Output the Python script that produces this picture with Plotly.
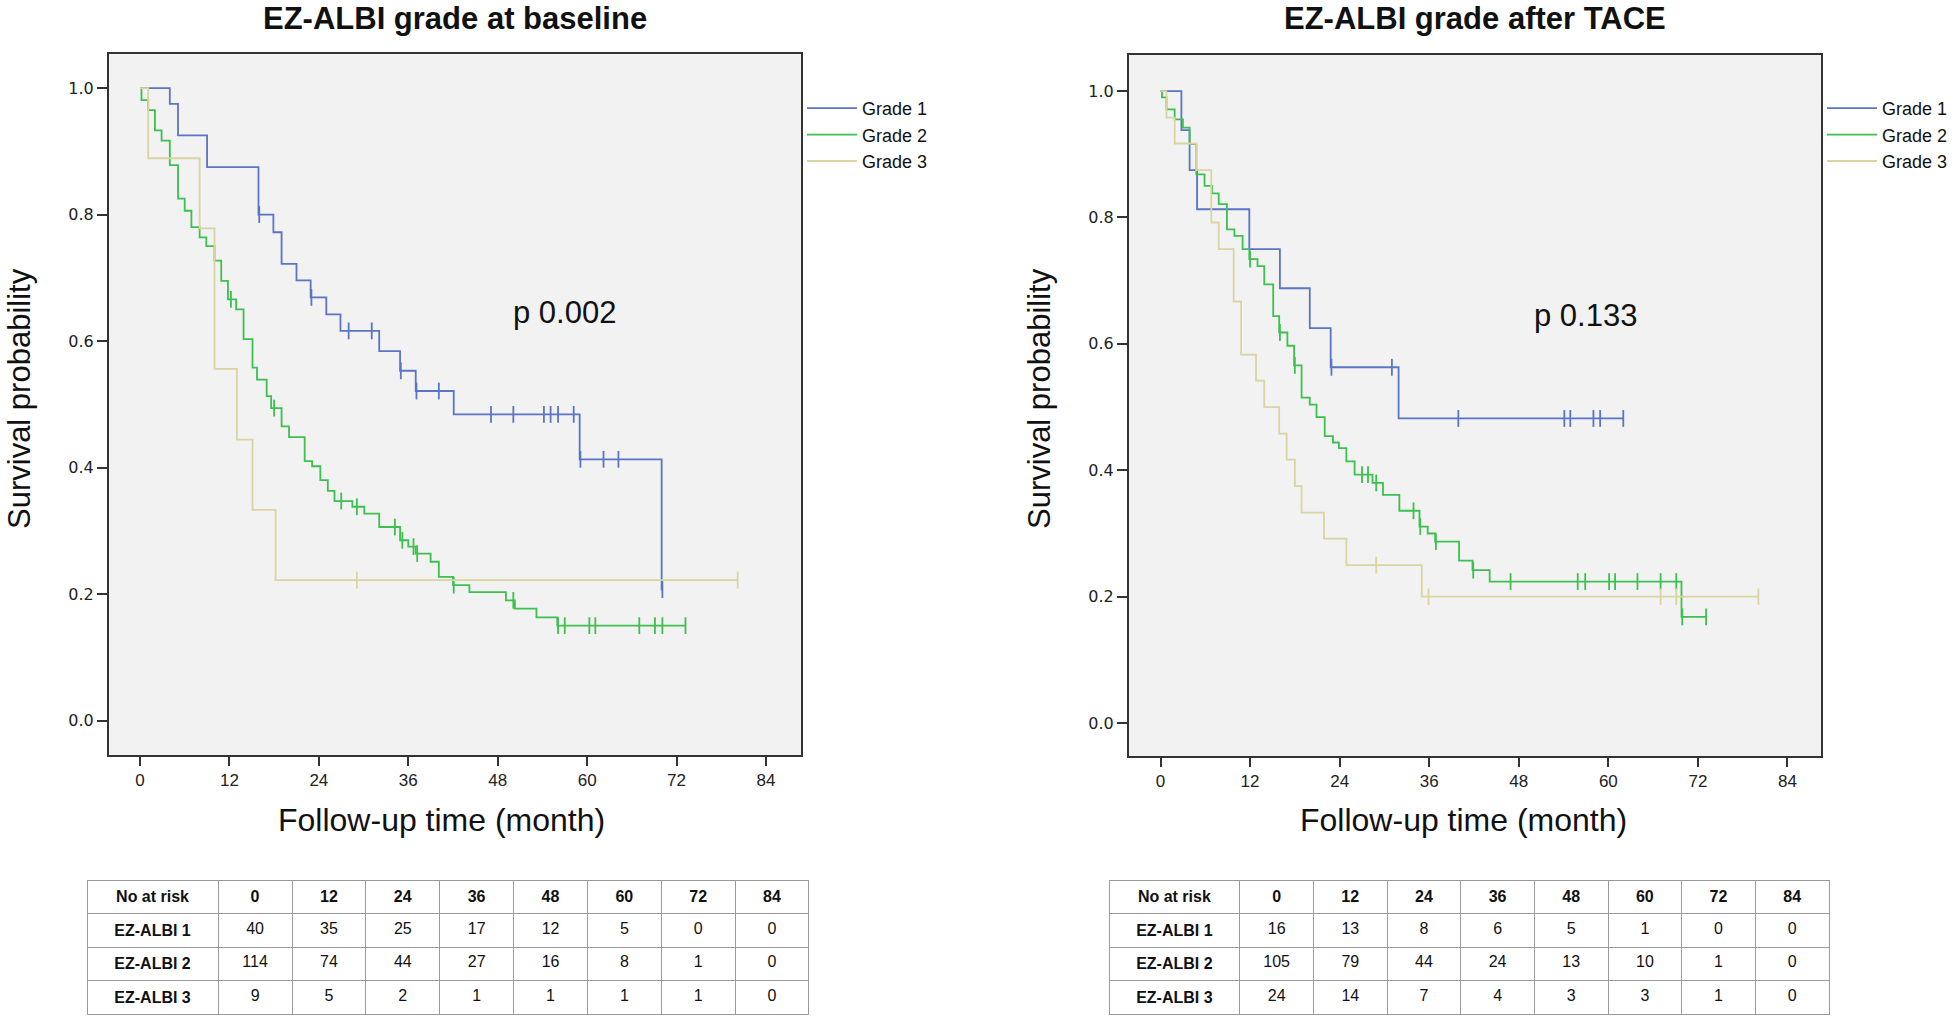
import numpy as np
import plotly.graph_objects as go

# ---------------- data ----------------
GRADES = ["Grade 1", "Grade 2", "Grade 3"]
COLORS = ["#5a74c6", "#3cc04e", "#d9d4a2"]

# Left panel: EZ-ALBI grade at baseline
L_G1_T = [4.0, 5.1, 9.0, 15.9, 17.9, 19.0, 21.0, 22.9, 25.0, 26.9, 32.1, 34.9, 37.0, 42.1, 59.0, 70.0]
L_G1_S = [0.975, 0.925, 0.875, 0.800, 0.772, 0.722, 0.696, 0.669, 0.642, 0.616, 0.584, 0.553, 0.521, 0.484, 0.413, 0.207]
L_G1_C = [16.0, 23.0, 28.0, 31.1, 35.0, 37.1, 40.1, 47.1, 50.1, 54.2, 55.1, 56.1, 58.2, 59.1, 62.2, 64.2, 70.1]

L_G2_T = [0.2, 1.1, 2.0, 2.9, 4.0, 5.1, 6.0, 6.9, 8.0, 8.9, 10.0, 10.9, 11.8, 12.9, 13.9, 15.1, 15.7,
          17.0, 17.6, 19.0, 20.0, 22.1, 23.1, 24.2, 25.2, 26.1, 28.5, 30.1, 32.1, 34.9, 36.0, 37.0,
          39.0, 40.1, 42.0, 44.2, 49.1, 50.3, 53.2, 56.0]
L_G2_S = [0.981, 0.965, 0.933, 0.917, 0.878, 0.825, 0.806, 0.780, 0.764, 0.750, 0.727, 0.695, 0.666,
          0.650, 0.603, 0.558, 0.539, 0.513, 0.494, 0.465, 0.448, 0.410, 0.402, 0.380, 0.363, 0.347,
          0.338, 0.327, 0.306, 0.285, 0.275, 0.264, 0.251, 0.227, 0.214, 0.203, 0.190, 0.177, 0.163, 0.150]
L_G2_C = [12.2, 18.0, 27.0, 29.1, 34.2, 35.2, 36.7, 37.2, 42.1, 50.1, 56.1, 57.0, 60.3, 61.1, 67.0, 69.1, 70.1, 73.2]

L_G3_T = [1.1, 8.0, 10.0, 13.0, 15.1, 18.2]
L_G3_S = [0.889, 0.778, 0.556, 0.444, 0.333, 0.222]
L_G3_C = [29.1, 80.2]

# Right panel: EZ-ALBI grade after TACE
R_G1_T = [2.8, 3.9, 4.9, 11.9, 16.0, 20.0, 22.8, 31.9]
R_G1_S = [0.938, 0.875, 0.813, 0.750, 0.688, 0.625, 0.563, 0.482]
R_G1_C = [22.9, 31.0, 39.9, 54.1, 54.9, 58.0, 58.9, 62.0]

R_G2_T = [0.2, 0.8, 1.9, 3.0, 3.9, 4.8, 5.9, 6.9, 7.8, 8.9, 9.9, 11.0, 11.9, 13.0, 13.9, 15.1, 15.9,
          17.0, 17.9, 18.9, 20.0, 20.9, 22.0, 23.1, 23.9, 24.9, 26.0, 28.4, 29.8, 32.0, 34.7, 35.8,
          36.8, 40.0, 41.8, 44.1, 69.8]
R_G2_S = [0.990, 0.971, 0.955, 0.942, 0.916, 0.868, 0.850, 0.838, 0.821, 0.781, 0.771, 0.750, 0.734,
          0.723, 0.694, 0.644, 0.618, 0.597, 0.566, 0.515, 0.504, 0.484, 0.454, 0.444, 0.435, 0.414,
          0.393, 0.380, 0.361, 0.336, 0.311, 0.300, 0.287, 0.257, 0.242, 0.224, 0.168]
R_G2_C = [12.0, 16.0, 18.0, 27.0, 27.8, 28.9, 33.9, 34.8, 36.9, 41.9, 46.9, 55.9, 56.9, 60.1, 60.9,
          63.9, 67.0, 69.1, 69.9, 73.1]

R_G3_T = [0.8, 1.9, 4.8, 6.8, 7.8, 9.8, 10.8, 12.8, 13.9, 15.9, 16.9, 18.0, 18.9, 21.9, 24.9, 35.0]
R_G3_S = [0.958, 0.917, 0.875, 0.792, 0.750, 0.667, 0.583, 0.542, 0.500, 0.458, 0.417, 0.375,
          0.333, 0.292, 0.250, 0.200]
R_G3_C = [28.9, 35.9, 67.0, 69.1, 80.1]

X_TICKS = [0, 12, 24, 36, 48, 60, 72, 84]
Y_TICKS = [0.0, 0.2, 0.4, 0.6, 0.8, 1.0]

TITLES = ["EZ-ALBI grade at baseline", "EZ-ALBI grade after TACE"]
P_VALUES = ["p 0.002", "p 0.133"]
X_TITLE = "Follow-up time (month)"
Y_TITLE = "Survival probability"

RISK_HEADER = ["No at risk", "0", "12", "24", "36", "48", "60", "72", "84"]
RISK_ROWS = ["EZ-ALBI 1", "EZ-ALBI 2", "EZ-ALBI 3"]
L_RISK_1 = [40, 35, 25, 17, 12, 5, 0, 0]
L_RISK_2 = [114, 74, 44, 27, 16, 8, 1, 0]
L_RISK_3 = [9, 5, 2, 1, 1, 1, 1, 0]
R_RISK_1 = [16, 13, 8, 6, 5, 1, 0, 0]
R_RISK_2 = [105, 79, 44, 24, 13, 10, 1, 0]
R_RISK_3 = [24, 14, 7, 4, 3, 3, 1, 0]

# ---------------- geometry helpers (page pixels -> paper fractions) ----------------
W, H = 1960, 1018


def px(x):
    return min(max(x / W, 0.0), 1.0)


def py(y):
    return min(max(1 - y / H, 0.0), 1.0)


SANS = "Liberation Sans, Arial, sans-serif"
NARROW = "Liberation Sans Narrow, Arial Narrow, Liberation Sans, sans-serif"

fig = go.Figure()


def add_curve(times, surv, cens, color, name, xa, ya, legend):
    t = np.array(times, float)
    s = np.array(surv, float)
    end = max(max(cens), t[-1])
    xs = np.concatenate([[0.0], t, [end]])
    ys = np.concatenate([[1.0], s, [s[-1]]])
    fig.add_trace(go.Scatter(x=xs, y=ys, mode="lines", line=dict(color=color, width=1.8, shape="hv"),
                             name=name, xaxis=xa, yaxis=ya, legend=legend, hoverinfo="skip"))
    c = np.array(cens, float)
    idx = np.searchsorted(t, c, side="right")
    cy = np.where(idx == 0, 1.0, s[np.maximum(idx - 1, 0)])
    fig.add_trace(go.Scatter(x=c, y=cy, mode="markers", showlegend=False, xaxis=xa, yaxis=ya,
                             marker=dict(symbol="line-ns", size=12, line=dict(color=color, width=1.8)),
                             hoverinfo="skip"))


panels = [
    ([(L_G1_T, L_G1_S, L_G1_C), (L_G2_T, L_G2_S, L_G2_C), (L_G3_T, L_G3_S, L_G3_C)], "x", "y", "legend"),
    ([(R_G1_T, R_G1_S, R_G1_C), (R_G2_T, R_G2_S, R_G2_C), (R_G3_T, R_G3_S, R_G3_C)], "x2", "y2", "legend2"),
]
for curves, xa, ya, lg in panels:
    for k in [0, 1, 2]:
        tt, ss, cc = curves[k]
        add_curve(tt, ss, cc, COLORS[k], GRADES[k], xa, ya, lg)

axis_common = dict(showgrid=False, zeroline=False, showline=True, mirror=True, linecolor="#333333",
                   linewidth=2, ticks="outside", tickcolor="#333333", tickwidth=1.5)
legend_common = dict(xanchor="left", yanchor="top", bgcolor="rgba(0,0,0,0)",
                     font=dict(family=SANS, size=18, color="#111"), itemwidth=50, tracegroupgap=0)

fig.update_layout(
    width=W, height=H, margin=dict(l=0, r=0, t=0, b=0),
    paper_bgcolor="white", plot_bgcolor="#f2f2f2", showlegend=True,
    xaxis=dict(domain=[px(109), px(801)], range=[-4.16, 88.7], tickvals=X_TICKS, ticklen=9,
               tickfont=dict(family=NARROW, size=17, color="#222"), anchor="y", **axis_common),
    yaxis=dict(domain=[py(755), py(54)], range=[-0.0545, 1.0538], tickvals=Y_TICKS, tickformat=".1f",
               ticklen=10, tickfont=dict(family="DejaVu Sans", size=16, color="#222"), anchor="x", **axis_common),
    xaxis2=dict(domain=[px(1129), px(1821)], range=[-4.22, 88.49], tickvals=X_TICKS, ticklen=9,
                tickfont=dict(family=NARROW, size=17, color="#222"), anchor="y2", **axis_common),
    yaxis2=dict(domain=[py(756), py(55)], range=[-0.052, 1.057], tickvals=Y_TICKS, tickformat=".1f",
                ticklen=10, tickfont=dict(family="DejaVu Sans", size=16, color="#222"), anchor="x2", **axis_common),
    legend=dict(x=px(802), y=py(90), **legend_common),
    legend2=dict(x=px(1822), y=py(90), **legend_common),
)

annotations = []
for i, (cx, xt_x, yt_x, xa, ya) in enumerate([(455, 441, 19, "x", "y"), (1475, 1463, 1039, "x2", "y2")]):
    annotations.append(dict(text="<b>" + TITLES[i] + "</b>", x=px(cx), y=py(18), xref="paper", yref="paper",
                            showarrow=False, font=dict(family=SANS, size=31, color="#111"),
                            xanchor="center", yanchor="middle"))
    annotations.append(dict(text=X_TITLE, x=px(xt_x), y=py(820), xref="paper", yref="paper", showarrow=False,
                            font=dict(family=SANS, size=32, color="#111"), xanchor="center", yanchor="middle"))
    annotations.append(dict(text=Y_TITLE, x=px(yt_x), y=py(399), xref="paper", yref="paper", showarrow=False,
                            textangle=-90, font=dict(family=SANS, size=31, color="#111"),
                            xanchor="center", yanchor="middle"))
    annotations.append(dict(text=P_VALUES[i], x=56.9, y=0.645, xref=xa, yref=ya, showarrow=False,
                            font=dict(family=SANS, size=31, color="#111"), xanchor="center", yanchor="middle"))
fig.update_layout(annotations=annotations)


def add_table(x0, x1, r1, r2, r3):
    cols = [["<b>" + r + "</b>" for r in RISK_ROWS]]
    for j in range(len(r1)):
        cols.append([str(r1[j]), str(r2[j]), str(r3[j])])
    fig.add_trace(go.Table(
        domain=dict(x=[px(x0), px(x1)], y=[0.0, py(880)]),
        columnwidth=[131] + [73.75] * 8,
        header=dict(values=["<b>" + h + "</b>" for h in RISK_HEADER], height=33.5, align="center",
                    fill_color="white", line=dict(color="#9a9a9a", width=1),
                    font=dict(family=NARROW, size=16, color="#111")),
        cells=dict(values=cols, height=33.5, align="center", fill_color="white",
                   line=dict(color="#9a9a9a", width=1), font=dict(family=NARROW, size=16, color="#111")),
    ))


add_table(87, 809, L_RISK_1, L_RISK_2, L_RISK_3)
add_table(1109, 1829, R_RISK_1, R_RISK_2, R_RISK_3)

fig.write_html("out.html", config={"displayModeBar": False},
               post_script="document.body.style.margin='0px';")
